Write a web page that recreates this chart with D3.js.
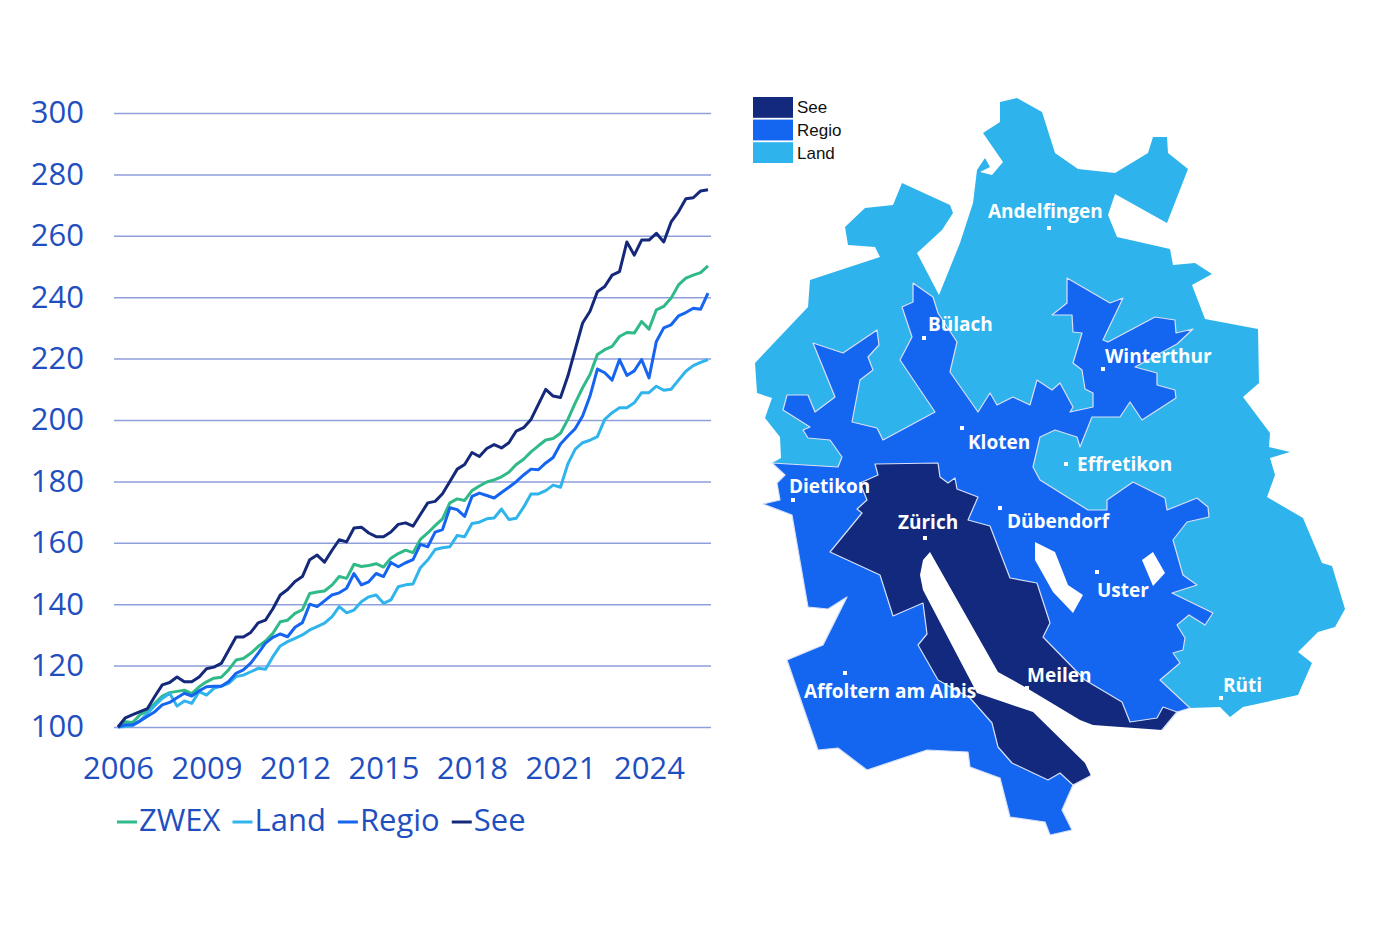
<!DOCTYPE html>
<html>
<head>
<meta charset="utf-8">
<script src="https://cdn.jsdelivr.net/npm/d3@7"></script>
<style>
  body { margin: 0; background: #fff; }
  svg { display: block; }
  .axis text { font-family: "Open Sans", sans-serif; font-size: 31px; fill: #1f4fbf; }
  .legend text { font-family: "Open Sans", sans-serif; font-size: 31px; fill: #1f4fbf; }
  .place { font-family: "Open Sans", sans-serif; font-weight: 700; font-size: 19px; fill: #fff; }
  .map-legend text { font-family: "Liberation Sans", Arial, sans-serif; font-size: 17px; fill: #111; }
</style>
</head>
<body>
<script>
// ---- index series, quarterly 2006 Q1 .. 2026 Q1
var quarters = d3.range(81).map(function(i) { return 2006 + i / 4; });

var zwex = [
  100, 101.7, 101.5, 104, 105.3, 107.7, 110.1, 111.2, 111.6, 112,
  110.9, 113.1, 114.7, 115.9, 116.2, 118.6, 121.8, 122.3, 124, 126.2,
  128, 130.5, 134.3, 134.8, 137, 138.2, 143.5, 144, 144.3, 146.2,
  149, 148.4, 153, 152.3, 152.6, 153.2, 152.1, 155, 156.5, 157.6,
  156.8, 161.1, 163.2, 165.6, 167.8, 173, 174.3, 173.8, 177, 178.5,
  179.8, 180.5, 181.5, 183, 185.5, 187.2, 189.6, 191.6, 193.5, 194,
  195.7, 200.2, 205.6, 210.5, 214.8, 221.3, 222.9, 224, 227.2, 228.5,
  228.3, 232.1, 229.6, 235.9, 237, 239.7, 244, 246.2, 247.2, 248,
  250.2];

var land = [
  100, 100.2, 100.5, 102, 104.5, 107, 109.3, 111, 106.8, 108.5,
  107.7, 111.5, 110.4, 112.6, 113.3, 114.2, 116.4, 116.9, 118, 119.1,
  118.8, 122.9, 126.4, 127.8, 128.9, 130, 131.6, 132.7, 133.8, 135.9,
  139.2, 137.2, 138.1, 140.8, 142.4, 143, 140.3, 141.4, 145.7, 146.3,
  146.6, 151.9, 154.4, 157.8, 158.4, 158.7, 162.4, 162, 166.3, 166.7,
  167.8, 168.1, 171, 167.6, 168, 171.6, 175.9, 175.9, 177, 178.8,
  178.1, 185.7, 190.5, 192.6, 193.4, 194.6, 200.2, 202.4, 204, 204,
  205.6, 208.9, 208.9, 211, 209.7, 210, 213, 215.9, 217.7, 218.8,
  219.7];

var regio = [
  100, 100.7, 100.7, 102, 103.5, 105, 107.2, 108, 109.5, 111,
  110.1, 111.8, 113.1, 113.3, 113.3, 114.8, 117.5, 118.6, 120.8, 124,
  127.3, 129.2, 130.3, 129.4, 132.5, 134, 140, 139.2, 141.1, 143,
  143.7, 145.2, 150, 146.3, 147.3, 150, 149, 153.6, 152.2, 153.5,
  154.5, 159.5, 158.7, 163.5, 164.3, 171.4, 170.8, 168.6, 175.1, 176.2,
  175.4, 174.6, 176.4, 178.1, 179.9, 182.1, 184, 183.8, 186, 187.8,
  192.2, 194.8, 197.2, 201.3, 207.8, 216.6, 215.4, 213, 219.7, 214.5,
  216, 219.7, 213.7, 225.6, 230, 231, 233.9, 235, 236.4, 236.1,
  241.3];

var see = [
  100, 103, 104, 105, 106, 110, 113.7, 114.5, 116.3, 114.7,
  114.7, 116.3, 119, 119.5, 120.7, 125, 129.3, 129.3, 130.8, 133.9,
  134.8, 138.5, 143, 144.8, 147.4, 149, 154.5, 156, 153.7, 157.5,
  161, 160.3, 164.8, 165.1, 163.2, 162, 162, 163.5, 166, 166.5,
  165.4, 169.2, 173, 173.5, 176, 180, 184, 185.5, 189.4, 188.1,
  190.7, 192, 190.9, 192.6, 196.4, 197.5, 200.2, 205.1, 210, 207.8,
  207.3, 214.3, 223, 231.6, 235.4, 241.8, 243.5, 247.2, 248.3, 258,
  253.7, 258.6, 258.6, 260.8, 258, 264.5, 267.8, 272.1, 272.4, 274.6,
  275];

var yTicks = [100, 120, 140, 160, 180, 200, 220, 240, 260, 280, 300];
var xTicks = [2006, 2009, 2012, 2015, 2018, 2021, 2024];
var seriesNames = ["ZWEX", "Land", "Regio", "See"];

// ---- map geometry (planar grid of the picture) and places
var cantonRing = [[1000,102],[1017,98],[1042,112],[1055,153],[1078,169],[1115,173],[1148,153],[1153,137],[1167,137],[1168,153],[1188,169],[1167,223],[1115,194],[1108,215],[1117,237],[1170,249],[1173,265],[1195,263],[1212,274],[1192,285],[1205,319],[1258,329],[1259,383],[1243,397],[1270,433],[1269,447],[1290,452],[1270,458],[1275,475],[1267,497],[1303,518],[1322,563],[1332,566],[1345,609],[1335,627],[1318,632],[1298,652],[1312,663],[1298,695],[1243,707],[1230,717],[1220,707],[1190,708],[1177,712],[1162,730],[1120,745],[1092,775],[1073,785],[1062,810],[1072,830],[1050,835],[1045,822],[1010,817],[1000,778],[970,767],[968,752],[927,750],[867,770],[838,748],[818,750],[787,660],[823,645],[847,597],[828,609],[808,607],[792,515],[763,504],[780,500],[777,483],[785,475],[772,463],[781,458],[780,437],[765,418],[772,398],[757,393],[755,363],[808,307],[810,280],[880,257],[875,247],[848,245],[845,227],[865,208],[893,205],[902,183],[950,205],[953,213],[942,230],[917,253],[939,295],[960,243],[973,203],[977,170],[985,158],[990,167],[980,172],[992,175],[1003,162],[983,133],[1000,122]];

var regioRing = [[1067,278],[1110,303],[1123,298],[1103,340],[1108,342],[1155,317],[1175,320],[1176,333],[1193,329],[1177,344],[1135,367],[1157,373],[1157,385],[1175,390],[1176,398],[1142,420],[1130,402],[1120,417],[1092,417],[1080,447],[1077,437],[1055,430],[1040,437],[1033,467],[1040,480],[1088,510],[1107,510],[1107,500],[1133,482],[1165,498],[1167,510],[1197,498],[1208,507],[1209,517],[1187,522],[1173,540],[1183,575],[1197,585],[1172,593],[1213,613],[1205,625],[1189,615],[1177,625],[1185,638],[1183,650],[1173,653],[1180,663],[1160,680],[1190,708],[1177,712],[1162,730],[1120,745],[1092,775],[1073,785],[1062,810],[1072,830],[1050,835],[1045,822],[1010,817],[1000,778],[970,767],[968,752],[927,750],[867,770],[838,748],[818,750],[787,660],[823,645],[847,597],[828,609],[808,607],[792,515],[763,504],[780,500],[777,483],[785,475],[772,463],[838,467],[842,457],[830,440],[808,438],[803,430],[810,427],[783,410],[787,395],[808,395],[815,412],[835,397],[813,343],[843,353],[877,330],[879,345],[868,357],[873,370],[860,380],[852,422],[877,428],[883,440],[935,412],[900,360],[912,337],[902,307],[913,302],[913,283],[933,297],[938,313],[957,342],[950,372],[978,412],[990,393],[997,405],[1013,397],[1030,405],[1037,380],[1052,390],[1060,383],[1073,407],[1070,412],[1093,407],[1093,393],[1085,389],[1082,370],[1073,363],[1082,333],[1073,332],[1072,315],[1052,315],[1067,303]];

var seeRing = [[875,464],[938,463],[940,477],[948,483],[955,478],[957,489],[978,497],[968,520],[990,526],[1010,578],[1037,583],[1050,623],[1043,637],[1085,680],[1122,702],[1130,722],[1157,718],[1163,707],[1177,712],[1162,730],[1120,745],[1092,775],[1073,785],[1060,773],[1048,780],[1012,763],[998,747],[992,723],[970,698],[938,680],[918,645],[927,634],[923,603],[893,616],[880,575],[830,552],[862,513],[857,509],[867,500],[860,483],[878,475]];

var lakeRings = [
  [[920,575],[923,560],[930,552],[998,672],[1025,687],[1080,720],[1093,725],[1162,730],[1170,760],[1092,778],[1085,763],[1033,712],[977,693],[923,590]],
  [[1035,542],[1055,552],[1068,585],[1083,595],[1073,613],[1053,592],[1035,560]],
  [[1142,560],[1153,552],[1165,573],[1153,586]]
];

var places = ["Andelfingen", "Bülach", "Winterthur", "Kloten", "Effretikon", "Dietikon",
  "Zürich", "Dübendorf", "Uster", "Affoltern am Albis", "Meilen", "Rüti"];
var placeCoords = [[1049,228],[924,338],[1103,369],[962,428],[1066,464],[793,500],
  [925,538],[1000,508],[1097,572],[845,673],[1027,688],[1221,698]];
var mapLegendNames = ["See", "Regio", "Land"];

// ---- styles and layout
var lineColor = { ZWEX: "#2fba88", Land: "#2fb4ec", Regio: "#1565f0", See: "#15297a" };
var areaColor = { See: "#12297e", Regio: "#1466f1", Land: "#2eb3ec" };
var labelOffset = {
  "Andelfingen": [-61, -17], "Bülach": [4, -14], "Winterthur": [2, -13], "Kloten": [6, 14],
  "Effretikon": [11, 0], "Dietikon": [-4, -14], "Zürich": [-27, -16], "Dübendorf": [7, 13],
  "Uster": [0, 18], "Affoltern am Albis": [-41, 18], "Meilen": [0, -13], "Rüti": [2, -13]
};

var W = 1400, H = 933;
var svg = d3.select("body").append("svg").attr("width", W).attr("height", H);

var x = d3.scaleLinear().domain([2006, 2026]).range([118, 708]);
var y = d3.scaleLinear().domain([100, 300]).range([727, 113]);

// y axis with gridlines
var yAxis = svg.append("g").attr("class", "axis")
  .attr("transform", "translate(114,0)")
  .call(d3.axisLeft(y).tickValues(yTicks).tickSize(-597).tickPadding(30));
yAxis.select(".domain").remove();
yAxis.selectAll(".tick line").attr("stroke", "#8e9fdc").attr("stroke-width", 1.5);

var xAxis = svg.append("g").attr("class", "axis")
  .attr("transform", "translate(0,727)")
  .call(d3.axisBottom(x).tickValues(xTicks).tickSize(0).tickPadding(30).tickFormat(d3.format("d")));
xAxis.select(".domain").remove();

// lines
var values = { ZWEX: zwex, Land: land, Regio: regio, See: see };
var line = d3.line()
  .x(function(d, i) { return x(quarters[i]); })
  .y(function(d) { return y(d); });

svg.append("g").selectAll("path")
  .data(seriesNames)
  .join("path")
  .attr("d", function(name) { return line(values[name]); })
  .attr("fill", "none")
  .attr("stroke", function(name) { return lineColor[name]; })
  .attr("stroke-width", 3)
  .attr("stroke-linejoin", "round");

// legend under the chart
var legend = svg.append("g").attr("class", "legend").attr("transform", "translate(117,820)");
var lx = 0;
seriesNames.forEach(function(name) {
  var item = legend.append("g").attr("transform", "translate(" + lx + ",0)");
  item.append("line").attr("x1", 0).attr("x2", 20).attr("y1", 2).attr("y2", 2)
    .attr("stroke", lineColor[name]).attr("stroke-width", 3);
  var t = item.append("text").attr("x", 22).attr("dy", "0.35em").text(name);
  lx += 22 + t.node().getComputedTextLength() + 12;
});

// ---- map
var projection = d3.geoIdentity().scale(1).translate([0, 0]);
var geo = d3.geoPath(projection);
function feature(ring) {
  return { type: "Feature", geometry: { type: "Polygon", coordinates: [ring.concat([ring[0]])] } };
}

var map = svg.append("g");
map.append("path").datum(feature(cantonRing)).attr("d", geo)
  .attr("fill", areaColor.Land);
map.append("path").datum(feature(regioRing)).attr("d", geo)
  .attr("fill", areaColor.Regio).attr("stroke", "#d9e0f6").attr("stroke-width", 1.2)
  .attr("stroke-linejoin", "round");
map.append("path").datum(feature(seeRing)).attr("d", geo)
  .attr("fill", areaColor.See).attr("stroke", "#d9e0f6").attr("stroke-width", 1.2)
  .attr("stroke-linejoin", "round");
map.append("g").selectAll("path").data(lakeRings.map(feature)).join("path")
  .attr("d", geo).attr("fill", "#fff");

// places
map.append("g").selectAll("rect").data(placeCoords).join("rect")
  .attr("x", function(d) { return projection(d)[0] - 2; })
  .attr("y", function(d) { return projection(d)[1] - 2; })
  .attr("width", 4).attr("height", 4).attr("fill", "#fff");

map.append("g").selectAll("text").data(places).join("text")
  .attr("class", "place")
  .attr("x", function(d, i) { return projection(placeCoords[i])[0] + labelOffset[d][0]; })
  .attr("y", function(d, i) { return projection(placeCoords[i])[1] + labelOffset[d][1]; })
  .attr("dy", "0.35em")
  .text(function(d) { return d; });

// map legend
var band = d3.scaleBand().domain(mapLegendNames).range([97, 163]).paddingInner(0.08);
var ml = svg.append("g").attr("class", "map-legend");
ml.selectAll("rect").data(mapLegendNames).join("rect")
  .attr("x", 753).attr("y", function(d) { return band(d); })
  .attr("width", 40).attr("height", band.bandwidth())
  .attr("fill", function(d) { return areaColor[d]; });
ml.selectAll("text").data(mapLegendNames).join("text")
  .attr("x", 797).attr("y", function(d) { return band(d) + band.bandwidth() / 2; })
  .attr("dy", "0.35em")
  .text(function(d) { return d; });
</script>
</body>
</html>
